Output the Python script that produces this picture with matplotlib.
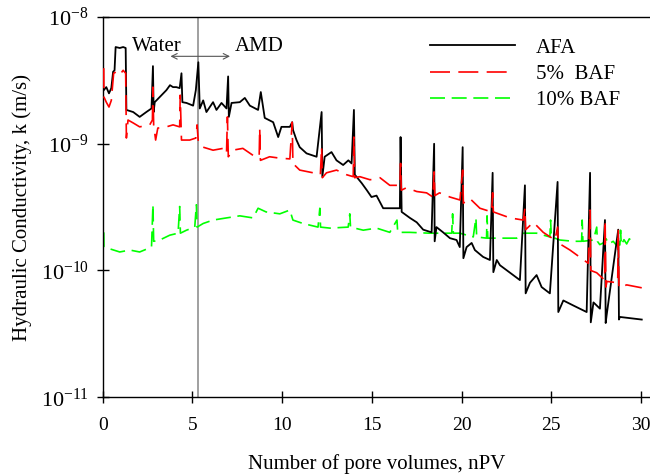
import numpy as np
import matplotlib.pyplot as plt
from matplotlib.ticker import NullLocator

plt.rcParams['font.family'] = ['Liberation Serif', 'DejaVu Serif']
plt.rcParams['mathtext.fontset'] = 'stix'

# ------------------- Data -------------------
afa_x = [0.06, 0.2, 0.35, 0.48, 0.58, 0.66, 0.72, 0.95, 1.14, 1.28, 1.32, 1.7, 2.06, 2.43, 2.72,
         2.8, 2.84, 2.9, 3.18, 3.55, 3.75, 3.92, 4.1, 4.29, 4.39, 4.44, 4.67, 5.04, 5.19, 5.33,
         5.41, 5.6, 5.78, 6.15, 6.34, 6.62, 6.9, 6.99, 7.03, 7.18, 7.64, 7.92, 8.2, 8.66, 8.81,
         9.03, 9.5, 9.78, 9.96, 10.43, 10.56, 10.61, 10.8, 10.98, 11.36, 11.92, 12.2, 12.24, 12.37,
         12.75, 13.03, 13.4, 13.69, 13.87, 14.0, 14.05, 14.43, 14.72, 14.98, 15.26, 15.63, 16.56,
         16.6, 16.66, 17.12, 17.5, 17.86, 18.33, 18.47, 18.5, 18.6, 18.97, 19.35, 19.72, 19.9,
         20.06, 20.1, 20.28, 20.56, 20.74, 21.2, 21.58, 21.73, 21.77, 21.96, 22.14, 22.7, 23.25,
         23.53, 23.57, 23.81, 24.18, 24.46, 24.92, 25.35, 25.39, 25.67, 26.22, 26.97, 27.16, 27.2,
         27.35, 27.71, 27.99, 28.03, 28.08, 28.73, 28.77, 28.82, 30.04]
afa_k = [2.65e-9, 2.8e-9, 2.5e-9, 2.75e-9, 3.7e-9, 3.8e-9, 5.8e-9, 5.7e-9, 5.8e-9, 5.7e-9,
         1.85e-9, 1.78e-9, 1.63e-9, 1.78e-9, 1.9e-9, 4.1e-9, 1.78e-9, 2.13e-9, 2.34e-9, 2.65e-9,
         2.9e-9, 2.8e-9, 2.8e-9, 2.75e-9, 3.6e-9, 2.13e-9, 2.1e-9, 2.0e-9, 2.65e-9, 4.4e-9,
         1.9e-9, 2.2e-9, 1.78e-9, 2.13e-9, 1.85e-9, 2.1e-9, 1.9e-9, 3.4e-9, 1.63e-9, 2.1e-9,
         2.13e-9, 2.3e-9, 2.0e-9, 1.85e-9, 2.56e-9, 1.6e-9, 1.48e-9, 1.13e-9, 1.36e-9, 1.36e-9,
         1.48e-9, 1.28e-9, 1.07e-9, 9.4e-10, 8.4e-10, 7.9e-10, 1.78e-9, 5.5e-10, 7.9e-10,
         8.6e-10, 7.4e-10, 6.8e-10, 7.4e-10, 7.0e-10, 1.85e-9, 5.7e-10, 4.9e-10, 4.3e-10,
         3.8e-10, 3.9e-10, 3.1e-10, 3.1e-10, 1.13e-9, 2.9e-10, 2.6e-10, 2.4e-10, 2.1e-10,
         2.0e-10, 1.0e-9, 1.7e-10, 2.2e-10, 2.0e-10, 1.8e-10, 1.74e-10, 1.53e-10, 9.4e-10,
         1.25e-10, 1.53e-10, 1.65e-10, 1.45e-10, 1.28e-10, 1.21e-10, 5.9e-10, 9.7e-11, 1.21e-10,
         1.1e-10, 9.6e-11, 8.4e-11, 4.7e-10, 6.6e-11, 8.0e-11, 9.2e-11, 7.4e-11, 6.6e-11,
         5.0e-10, 4.7e-11, 5.8e-11, 5.3e-11, 4.7e-11, 5.9e-10, 3.9e-11, 5.6e-11, 5.0e-11,
         2.5e-10, 3.85e-11, 4.4e-11, 2.1e-10, 4.1e-11, 4.3e-11, 4.1e-11]

baf5_x = [0.06, 0.07, 0.2, 0.35, 0.48, 0.61, 0.77, 0.95, 1.14, 1.28, 1.32, 1.41, 1.7, 2.06, 2.62,
          2.77, 2.8, 2.84, 2.95, 3.07, 3.55, 3.92, 4.29, 4.32, 4.39, 4.85, 5.19, 5.26, 5.33, 5.6,
          6.15, 6.71, 6.9, 6.95, 7.0, 7.25, 7.81, 8.38, 8.72, 8.75, 8.79, 9.3, 9.87, 10.43, 10.56,
          10.6, 10.98, 11.73, 12.13, 12.2, 12.24, 12.47, 13.03, 13.59, 13.96, 14.0, 14.04, 14.33,
          14.9, 15.45, 16.0, 16.56, 16.6, 16.64, 16.93, 17.5, 18.05, 18.4, 18.47, 18.51, 18.77,
          19.35, 19.91, 20.06, 20.1, 20.46, 21.02, 21.67, 21.73, 21.77, 22.7, 23.44, 23.53, 23.57,
          24.0, 24.55, 25.2, 25.35, 25.39, 26.04, 27.06, 27.16, 27.2, 27.53, 27.97, 28.0, 28.04,
          28.1, 28.7, 28.73, 28.77, 29.2, 30.04]
baf5_k = [3.95e-9, 2.34e-9, 2.13e-9, 1.95e-9, 2.2e-9, 3.6e-9, 3.7e-9, 3.5e-9, 3.8e-9, 3.6e-9,
          1.11e-9, 1.54e-9, 1.46e-9, 1.36e-9, 1.41e-9, 1.54e-9, 2.8e-9, 1.41e-9, 1.07e-9,
          1.33e-9, 1.36e-9, 1.41e-9, 1.36e-9, 2.42e-9, 1.07e-9, 1.07e-9, 1.11e-9, 1.41e-9,
          1.03e-9, 9.4e-10, 8.9e-10, 9.2e-10, 8.4e-10, 1.63e-9, 7.9e-10, 8.9e-10, 9.2e-10,
          8.1e-10, 7.9e-10, 1.33e-9, 7.4e-10, 7.9e-10, 7.7e-10, 7.6e-10, 1.48e-9, 7.0e-10,
          6.2e-10, 5.9e-10, 5.7e-10, 9.4e-10, 5.4e-10, 5.9e-10, 6.2e-10, 5.7e-10, 5.5e-10,
          1.13e-9, 5.4e-10, 5.5e-10, 5.2e-10, 5.4e-10, 4.7e-10, 4.7e-10, 7.0e-10, 4.3e-10,
          4.5e-10, 4.2e-10, 4.1e-10, 3.8e-10, 6.0e-10, 3.9e-10, 4.1e-10, 3.8e-10, 3.6e-10,
          6.2e-10, 3.4e-10, 3.7e-10, 3.1e-10, 2.9e-10, 4.1e-10, 2.9e-10, 2.6e-10, 2.5e-10,
          3.1e-10, 2.1e-10, 2.4e-10, 2.0e-10, 1.74e-10, 2.2e-10, 1.65e-10, 1.45e-10, 1.14e-10,
          3.0e-10, 1.0e-10, 9.6e-11, 8.4e-11, 2.5e-10, 7.4e-11, 8.2e-11, 8.0e-11, 2.1e-10,
          7.3e-11, 7.7e-11, 7.3e-11]

baf10_x = [0.06, 0.07, 0.28, 0.95, 1.51, 2.06, 2.72, 2.8, 2.84, 3.18, 3.74, 4.2, 4.29, 4.33,
           4.67, 5.13, 5.22, 5.26, 5.6, 6.15, 6.9, 7.64, 8.38, 8.66, 9.1, 9.87, 10.43, 10.6,
           11.16, 12.0, 12.1, 12.14, 12.66, 13.68, 13.77, 13.81, 14.52, 15.26, 16.0, 16.4, 16.44,
           17.1, 18.2, 19.45, 19.5, 19.54, 19.9, 20.65, 20.8, 20.84, 21.39, 21.42, 21.46, 22.14,
           23.07, 23.44, 24.18, 24.92, 24.96, 25.0, 25.48, 26.22, 26.69, 26.72, 26.76, 27.35,
           27.53, 27.57, 27.7, 27.9, 28.05, 28.2, 28.45, 28.6, 28.82, 28.86, 28.9, 29.05, 29.2,
           29.35, 29.47]
baf10_k = [2.0e-10, 1.53e-10, 1.5e-10, 1.4e-10, 1.45e-10, 1.4e-10, 1.53e-10, 3.3e-10, 1.7e-10,
           1.74e-10, 1.9e-10, 1.97e-10, 3.2e-10, 1.97e-10, 2.08e-10, 2.2e-10, 3.3e-10, 2.2e-10,
           2.35e-10, 2.5e-10, 2.6e-10, 2.7e-10, 2.6e-10, 3.1e-10, 2.9e-10, 2.8e-10, 3.0e-10,
           2.5e-10, 2.35e-10, 2.2e-10, 3.1e-10, 2.2e-10, 2.16e-10, 2.2e-10, 2.8e-10, 2.2e-10,
           2.08e-10, 2.16e-10, 2.0e-10, 2.5e-10, 2.0e-10, 2.0e-10, 1.97e-10, 1.97e-10, 2.8e-10,
           1.97e-10, 1.97e-10, 1.84e-10, 2.6e-10, 1.84e-10, 1.8e-10, 2.7e-10, 1.8e-10, 1.8e-10,
           1.8e-10, 1.97e-10, 1.97e-10, 1.84e-10, 2.5e-10, 1.84e-10, 1.74e-10, 1.7e-10, 1.7e-10,
           2.5e-10, 1.7e-10, 1.74e-10, 2.2e-10, 1.7e-10, 1.6e-10, 1.65e-10, 1.78e-10, 1.62e-10,
           1.7e-10, 1.6e-10, 1.59e-10, 2.08e-10, 1.59e-10, 1.75e-10, 1.62e-10, 1.78e-10, 1.7e-10]

y_ticks = [1e-11, 1e-10, 1e-9, 1e-8]
switch_pv = 5.3  # water -> AMD change

# ------------------- Plot -------------------
fig = plt.figure(figsize=(6.5, 4.74), dpi=100)
ax = fig.add_axes([0.158, 0.162, 0.842, 0.802])

ax.axvline(switch_pv, color='#999999', lw=1.3, zorder=1)

ax.plot(afa_x, afa_k, color='black', lw=1.3, label='AFA', zorder=3)
ax.plot(baf5_x, baf5_k, color='#ff0000', lw=1.2, dashes=(12, 5), label='5%  BAF', zorder=4)
ax.plot(baf10_x, baf10_k, color='#00ff00', lw=1.2, dashes=(9, 4), label='10% BAF', zorder=2)

ax.set_yscale('log')
ax.set_xlim(0, 30.5)
ax.set_ylim(1e-11, 1e-8)
ax.set_xticks(range(0, 31, 5))
ax.set_yticks(y_ticks)
ax.yaxis.set_minor_locator(NullLocator())
ax.tick_params(direction='inout', length=8, width=1)
ax.tick_params(axis='x', labelsize=14, pad=10)
ax.tick_params(axis='y', labelsize=16, pad=6)

ax.spines['right'].set_visible(False)
for s in ['left', 'bottom', 'top']:
    ax.spines[s].set_linewidth(1.0)

ax.set_xlabel('Number of pore volumes, nPV', fontsize=15, labelpad=15)
ax.set_ylabel('Hydraulic Conductivity, k (m/s)', fontsize=15, labelpad=6)

# Water / AMD annotation with double arrow
ax.text(3.0, 5.9e-9, 'Water', fontsize=15, ha='center', va='center')
ax.text(8.75, 5.9e-9, 'AMD', fontsize=15, ha='center', va='center')
ax.annotate('', xy=(3.62, 4.9e-9), xytext=(7.25, 4.9e-9),
            arrowprops=dict(arrowstyle='<->', color='#555555', lw=0.8))

ax.legend(loc='upper left', bbox_to_anchor=(0.598, 0.945), frameon=False, fontsize=15,
          borderpad=0, borderaxespad=0, handlelength=4.1, handletextpad=1.0, labelspacing=0.32)

plt.savefig('out.png', dpi=100)
